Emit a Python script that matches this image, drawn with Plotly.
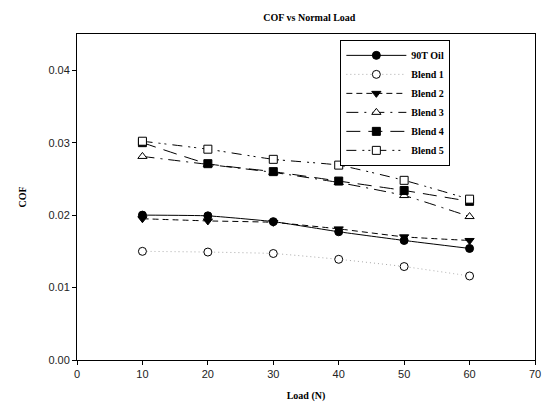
import plotly.graph_objects as go

load = [10, 20, 30, 40, 50, 60]
oil_90t = [0.0200, 0.0199, 0.0191, 0.0177, 0.0165, 0.0154]
blend1 = [0.0150, 0.0149, 0.0147, 0.0139, 0.0129, 0.0116]
blend2 = [0.0195, 0.0192, 0.0190, 0.0181, 0.0170, 0.0165]
blend3 = [0.0281, 0.0270, 0.0259, 0.0245, 0.0227, 0.0198]
blend4 = [0.0300, 0.0271, 0.0260, 0.0247, 0.0234, 0.0219]
blend5 = [0.0302, 0.0291, 0.0277, 0.0269, 0.0248, 0.0222]

names = ["90T Oil", "Blend 1", "Blend 2", "Blend 3", "Blend 4", "Blend 5"]
series = [oil_90t, blend1, blend2, blend3, blend4, blend5]
symbols = ["circle", "circle", "triangle-down", "triangle-up", "square", "square"]
fills = ["black", "white", "black", "white", "black", "white"]
dashes = ["solid", "1px,3px", "6px,4px", "12px,6px,2px,6px", "14px,8px", "10px,6px,2px,4px,2px,6px"]
lcolors = ["black", "#aaaaaa", "black", "black", "black", "black"]

fig = go.Figure()
for name, ys, sym, fc, dash, lc in zip(names, series, symbols, fills, dashes, lcolors):
    fig.add_trace(go.Scatter(
        x=load, y=ys, name="<b>" + name + "</b>", mode="lines+markers",
        line=dict(color=lc, width=1, dash=dash, shape="spline", smoothing=0.4),
        marker=dict(symbol=sym, size=8, color=fc, line=dict(color="black", width=1)),
    ))

fig.update_layout(
    width=550, height=410,
    margin=dict(l=77, r=9, t=34, b=50),
    paper_bgcolor="white", plot_bgcolor="white",
    title=dict(text="<b>COF vs Normal Load</b>", x=0.5625, xanchor="center", y=0.958, yanchor="middle",
               font=dict(family="Liberation Serif", size=10, color="black")),
    showlegend=True,
    legend=dict(x=0.575, y=0.982, xanchor="left", yanchor="top",
                bordercolor="black", borderwidth=1, bgcolor="white",
                font=dict(family="Liberation Serif", size=10, color="black"),
                tracegroupgap=0, itemwidth=60),
)
fig.update_xaxes(range=[0, 70], dtick=10, tick0=0, showgrid=False, zeroline=False,
                 showline=True, linecolor="black", linewidth=1, mirror=True,
                 ticks="outside", ticklen=4, tickcolor="black",
                 tickfont=dict(family="Liberation Sans", size=11, color="#222"),
                 title=dict(text="<b>Load (N)</b>", standoff=12,
                            font=dict(family="Liberation Serif", size=10, color="black")))
fig.update_yaxes(range=[0, 0.045], tickvals=[0, 0.01, 0.02, 0.03, 0.04], tickformat=".2f",
                 showgrid=False, zeroline=False,
                 showline=True, linecolor="black", linewidth=1, mirror=True,
                 ticks="outside", ticklen=4, tickcolor="black",
                 tickfont=dict(family="Liberation Sans", size=11, color="#222"),
                 title=dict(text="<b>COF</b>", standoff=19,
                            font=dict(family="Liberation Serif", size=10, color="black")))

fig.write_html("out.html", config={"displayModeBar": False},
               post_script="document.body.style.margin='0';")
